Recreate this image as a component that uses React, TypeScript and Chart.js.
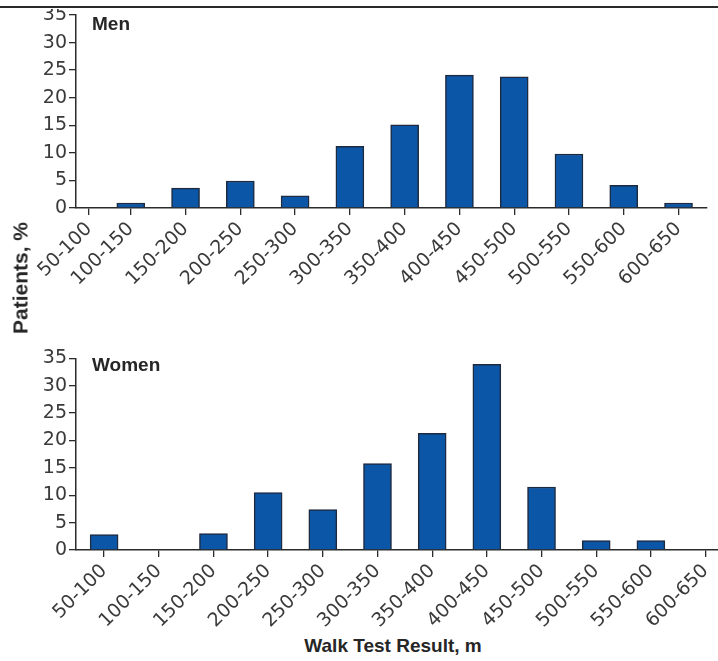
import React, { useEffect, useRef } from "react";
import { Chart, registerables } from "chart.js";

Chart.register(...registerables);

// Walk test distance bins (m)
const categories = [
  "50-100", "100-150", "150-200", "200-250", "250-300", "300-350",
  "350-400", "400-450", "450-500", "500-550", "550-600", "600-650",
];

// Share of patients per bin, %
const menPct = [0, 0.9, 3.6, 4.9, 2.2, 11.2, 15.1, 24.1, 23.8, 9.8, 4.1, 0.9];
const womenPct = [2.8, 0, 3.0, 10.5, 7.4, 15.8, 21.3, 33.9, 11.5, 1.7, 1.7, 0];

// Y axis ticks, %
const yTicks = [0, 5, 10, 15, 20, 25, 30, 35];

const TICK_FONT = "'DejaVu Sans', 'Liberation Sans', sans-serif";
const TITLE_FONT = "'Liberation Sans', Arial, Helvetica, sans-serif";
const AXIS_COLOR = "#2b2b2b";
const TICK_COLOR = "#3a3a3a";
const BAR_FILL = "#0b56a6";
const BAR_EDGE = "#1d2a40";

type PanelProps = {
  values: number[];
  width: number;
  height: number;
  top: number;
  padTop: number;
  padRight: number;
  xAxisHeight: number;
  xMin: number;
  xMax: number;
  firstSlot: number; // axis position of the first bin
};

function Panel({ values, width, height, top, padTop, padRight, xAxisHeight, xMin, xMax, firstSlot }: PanelProps) {
  const ref = useRef<HTMLCanvasElement | null>(null);

  useEffect(() => {
    if (!ref.current) return;
    const slot = (i: number) => (i === 0 ? firstSlot : i);
    const labelAt = new Map<number, string>(categories.map((c, i) => [slot(i), c]));
    const chart = new Chart(ref.current, {
      type: "bar",
      data: {
        datasets: [
          {
            data: values.map((v, i) => ({ x: slot(i), y: v })),
            backgroundColor: BAR_FILL,
            borderColor: BAR_EDGE,
            borderWidth: 1.5,
            barThickness: 28,
          },
        ],
      },
      options: {
        responsive: false,
        animation: false,
        events: [],
        layout: { padding: { top: padTop, right: padRight, bottom: 0, left: 0 } },
        plugins: { legend: { display: false }, tooltip: { enabled: false } },
        scales: {
          x: {
            type: "linear",
            min: xMin,
            max: xMax,
            offset: false,
            afterBuildTicks: (scale: any) => {
              scale.ticks = categories.map((_, i) => ({ value: slot(i) }));
            },
            afterFit: (scale: any) => {
              scale.height = xAxisHeight;
              scale.paddingLeft = 0;
              scale.paddingRight = 0;
            },
            grid: {
              offset: false,
              drawOnChartArea: false,
              drawTicks: true,
              tickLength: 7,
              color: AXIS_COLOR,
              lineWidth: 1.3,
            },
            border: { display: true, color: AXIS_COLOR, width: 1.5 },
            ticks: {
              autoSkip: false,
              minRotation: 45,
              maxRotation: 45,
              padding: 3,
              color: TICK_COLOR,
              font: { family: TICK_FONT, size: 19 },
              callback: (value: any) => labelAt.get(value as number) ?? "",
            },
          },
          y: {
            min: 0,
            max: 35,
            afterBuildTicks: (scale: any) => {
              scale.ticks = yTicks.map((v) => ({ value: v }));
            },
            afterFit: (scale: any) => {
              scale.width = 76;
            },
            grid: {
              drawOnChartArea: false,
              drawTicks: true,
              tickLength: 7,
              color: AXIS_COLOR,
              lineWidth: 1.3,
            },
            border: { display: true, color: AXIS_COLOR, width: 1.5 },
            ticks: {
              padding: 2,
              color: TICK_COLOR,
              font: { family: TICK_FONT, size: 19 },
            },
          },
        },
      },
    } as any);
    return () => chart.destroy();
  }, [values, width, height, padTop, padRight, xAxisHeight, xMin, xMax, firstSlot]);

  return (
    <canvas
      ref={ref}
      width={width}
      height={height}
      style={{ position: "absolute", left: 0, top, width, height }}
    />
  );
}

const panelLabel: React.CSSProperties = {
  position: "absolute",
  fontFamily: TITLE_FONT,
  fontWeight: "bold",
  fontSize: 19,
  lineHeight: "19px",
  color: "#262626",
  whiteSpace: "nowrap",
};

export default function App() {
  return (
    <div
      style={{
        position: "absolute",
        left: 0,
        top: 0,
        width: 718,
        height: 661,
        overflow: "hidden",
        background: "#ffffff",
      }}
    >
      <Panel
        values={menPct}
        width={718}
        height={300}
        top={0}
        padTop={15}
        padRight={11}
        xAxisHeight={92}
        xMin={0}
        xMax={11.52}
        firstSlot={0.24}
      />
      <Panel
        values={womenPct}
        width={740}
        height={300}
        top={330}
        padTop={28.3}
        padRight={0}
        xAxisHeight={80}
        xMin={-0.514}
        xMax={11.63}
        firstSlot={0}
      />

      {/* page rule above the figure */}
      <div style={{ position: "absolute", left: 0, top: 0, width: 718, height: 9, background: "#ffffff" }} />
      <div style={{ position: "absolute", left: 0, top: 6, width: 718, height: 2, background: "#2a2a2a" }} />

      <div style={{ ...panelLabel, left: 92, top: 13.5 }}>Men</div>
      <div style={{ ...panelLabel, left: 92, top: 354.5 }}>Women</div>

      <div
        style={{
          ...panelLabel,
          fontSize: 21,
          lineHeight: "21px",
          left: 20,
          top: 278,
          transform: "translate(-50%, -50%) rotate(-90deg)",
        }}
      >
        Patients, %
      </div>
      <div style={{ ...panelLabel, left: 393, top: 636, transform: "translateX(-50%)" }}>
        Walk Test Result, m
      </div>
    </div>
  );
}
